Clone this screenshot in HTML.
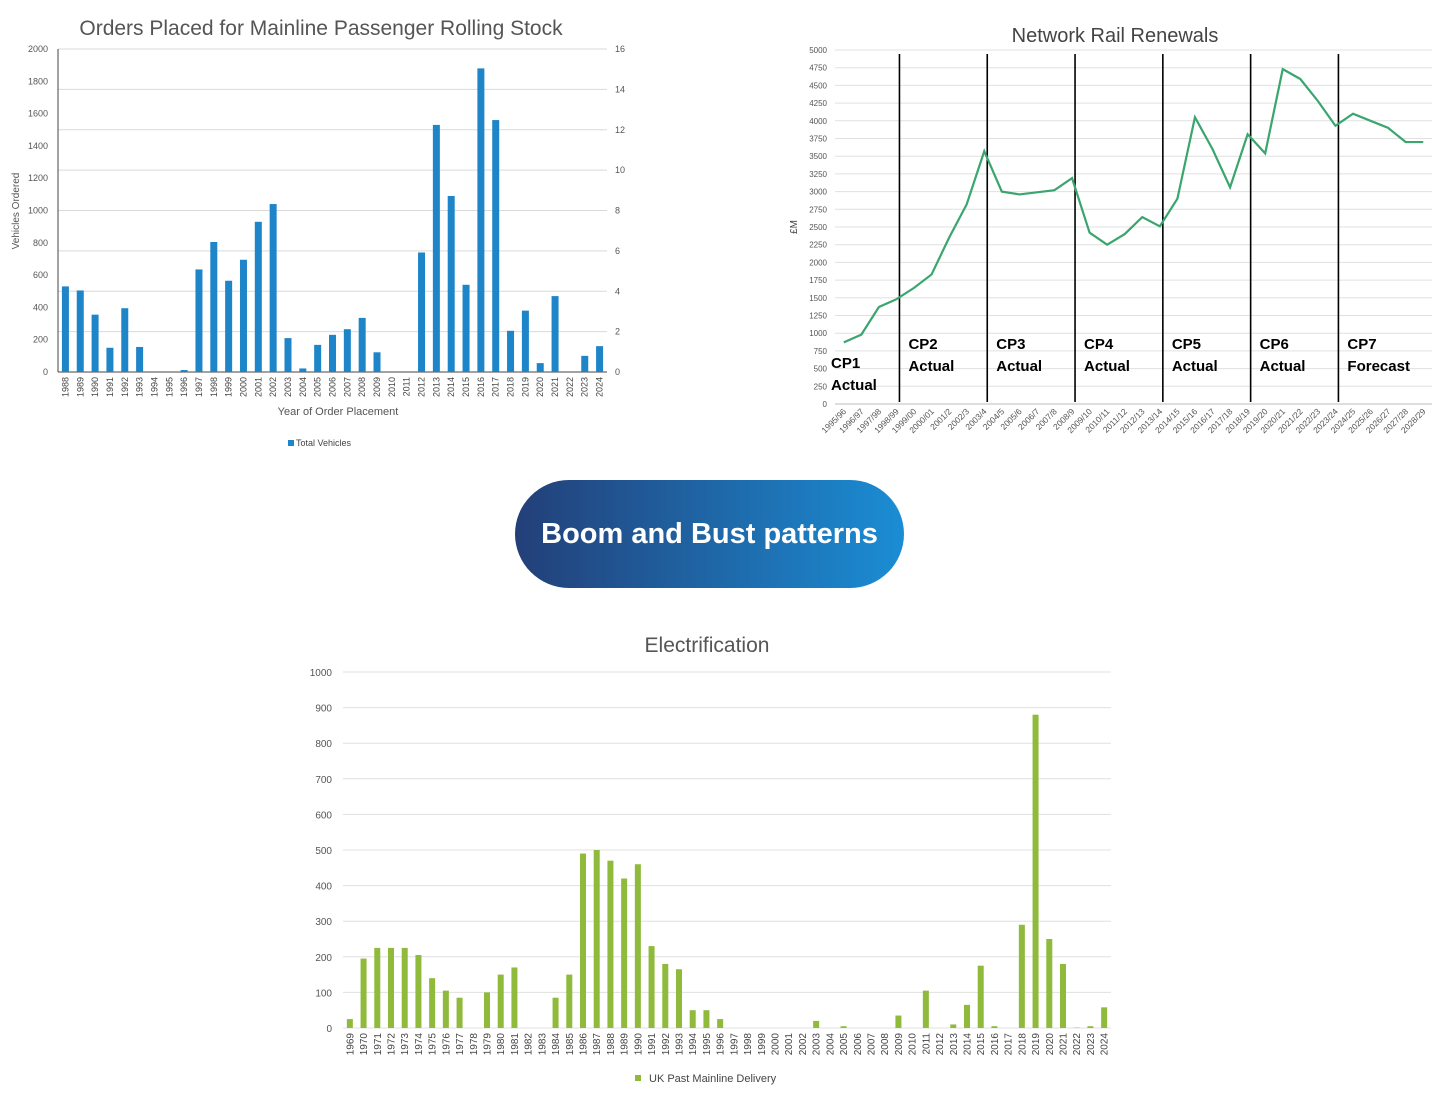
<!DOCTYPE html>
<html><head><meta charset="utf-8"><style>
body{margin:0;background:#fff;width:1439px;height:1093px;overflow:hidden;font-family:"Liberation Sans",sans-serif}
svg{position:absolute;left:0;top:0}
</style></head><body>
<svg id="s" width="1439" height="1093" xmlns="http://www.w3.org/2000/svg">
<defs><linearGradient id="g" x1="0" x2="1" y1="0" y2="0"><stop offset="0" stop-color="#233f78"/><stop offset="1" stop-color="#1b8dd4"/></linearGradient></defs>
<g>
<rect x="515" y="480" width="389" height="108" rx="54" fill="url(#g)"/>
<text x="709.5" y="543" text-anchor="middle" fill="#fff" font-size="29" font-weight="bold">Boom and Bust patterns</text>
</g>
</svg>
<script>
// Chart 1: Orders placed
const c1Years=["1988","1989","1990","1991","1992","1993","1994","1995","1996","1997","1998","1999","2000","2001","2002","2003","2004","2005","2006","2007","2008","2009","2010","2011","2012","2013","2014","2015","2016","2017","2018","2019","2020","2021","2022","2023","2024"];
const c1Values=[530,505,355,150,395,155,0,0,12,635,805,565,695,930,1040,210,22,168,230,265,335,122,0,0,740,1530,1090,540,1880,1560,255,380,55,470,0,100,160];
const c1LeftTicks=[0,200,400,600,800,1000,1200,1400,1600,1800,2000];
const c1RightTicks=[0,2,4,6,8,10,12,14,16];
// Chart 2: Network Rail renewals
const c2Cats=["1995/96","1996/97","1997/98","1998/99","1999/00","2000/01","2001/2","2002/3","2003/4","2004/5","2005/6","2006/7","2007/8","2008/9","2009/10","2010/11","2011/12","2012/13","2013/14","2014/15","2015/16","2016/17","2017/18","2018/19","2019/20","2020/21","2021/22","2022/23","2023/24","2024/25","2025/26","2026/27","2027/28","2028/29"];
const c2Values=[870,980,1370,1480,1640,1830,2350,2820,3570,3000,2960,2990,3020,3190,2420,2250,2400,2640,2510,2900,4050,3600,3060,3810,3540,4730,4590,4280,3930,4100,4000,3900,3700,3700];
const c2Ticks=[0,250,500,750,1000,1250,1500,1750,2000,2250,2500,2750,3000,3250,3500,3750,4000,4250,4500,4750,5000];
const c2Periods=["CP1","CP2","CP3","CP4","CP5","CP6","CP7"];
const c2PeriodSub=["Actual","Actual","Actual","Actual","Actual","Actual","Forecast"];
const c2Boundaries=[3,8,13,18,23,28];
// Chart 3: Electrification
const c3Years=[];for(let y=1969;y<=2024;y++)c3Years.push(String(y));
const c3Values=[25,195,225,225,225,205,140,105,85,0,100,150,170,0,0,85,150,490,500,470,420,460,230,180,165,50,50,25,0,0,0,0,0,0,20,0,5,0,0,0,35,0,105,0,10,65,175,5,0,290,880,250,180,1,5,58];
const c3Ticks=[0,100,200,300,400,500,600,700,800,900,1000];

const S=document.getElementById('s');const NS='http://www.w3.org/2000/svg';
function mk(t,a,txt,p){const e=document.createElementNS(NS,t);for(const k in a)e.setAttribute(k,a[k]);if(txt!=null)e.textContent=txt;(p||S).appendChild(e);return e;}
function grp(name){const g=mk('g',{});


return g;}

// ---- chart 1
(function(){
const G=grp('orders-chart');
const L=58,R=607,T=49,B=372;const y=v=>B-(v/2000)*(B-T);const bw=(R-L)/c1Years.length;const x=i=>L+(i+0.5)*bw;
mk('text',{x:321,y:35,'text-anchor':'middle','font-size':21,fill:'#555'},'Orders Placed for Mainline Passenger Rolling Stock',G);
c1RightTicks.forEach(t=>{const yy=B-(t/16)*(B-T);mk('line',{x1:L,x2:R,y1:yy,y2:yy,stroke:'#d9d9d9'},null,G);
const lb=mk('text',{x:615,y:yy+3,'font-size':9,fill:'#555'},t,G);

});
c1LeftTicks.forEach(t=>{const lb=mk('text',{x:48,y:y(t)+3,'text-anchor':'end','font-size':9,fill:'#555'},t,G);

});
mk('line',{x1:L,x2:L,y1:T,y2:B,stroke:'#444'},null,G);
mk('line',{x1:L,x2:R,y1:B,y2:B,stroke:'#444'},null,G);
c1Values.forEach((v,i)=>{const r=mk('rect',{x:x(i)-3.5,y:y(v),width:7,height:B-y(v),fill:'#1e85c8'},null,G);


const t=mk('text',{transform:`translate(${x(i)+3},${B+5}) rotate(-90)`,'text-anchor':'end','font-size':9,fill:'#444'},c1Years[i],G);

});
const yt=mk('text',{transform:'translate(19,211) rotate(-90)','text-anchor':'middle','font-size':10,fill:'#555'},'Vehicles Ordered',G);


const xt=mk('text',{x:338,y:415,'text-anchor':'middle','font-size':11,fill:'#555'},'Year of Order Placement',G);


const lg=mk('g',{},null,G);


mk('rect',{x:288,y:440,width:6,height:6,fill:'#1e85c8'},null,lg);
mk('text',{x:296,y:446,'font-size':9,fill:'#444'},'Total Vehicles',lg);
})();

// ---- chart 2
(function(){
const G=grp('renewals-chart');
const L=835,R=1432,T=50,B=404;const y=v=>B-(v/5000)*(B-T);const bw=(R-L)/c2Cats.length;const x=i=>L+(i+0.5)*bw;
mk('text',{x:1115,y:42,'text-anchor':'middle','font-size':20,fill:'#444'},'Network Rail Renewals',G);
c2Ticks.forEach(t=>{mk('line',{x1:L,x2:R,y1:y(t),y2:y(t),stroke:'#e0e0e0'},null,G);
const lb=mk('text',{x:827,y:y(t)+3,'text-anchor':'end','font-size':8,fill:'#555'},t,G);

});
mk('line',{x1:L,x2:R,y1:B,y2:B,stroke:'#bbb'},null,G);
c2Cats.forEach((c,i)=>{const t=mk('text',{transform:`translate(${x(i)+3},${B+8}) rotate(-45)`,'text-anchor':'end','font-size':8.5,fill:'#555'},c,G);

});
const yt=mk('text',{transform:'translate(797,227) rotate(-90)','text-anchor':'middle','font-size':10,fill:'#444'},'£M',G);


c2Boundaries.forEach(b=>{const ln=mk('line',{x1:x(b)+3,x2:x(b)+3,y1:54,y2:402,stroke:'#000','stroke-width':1.6},null,G);

});
const pd=mk('polyline',{points:c2Values.map((v,i)=>x(i)+','+y(v)).join(' '),fill:'none',stroke:'#3aa56e','stroke-width':2.2},null,G);


const starts=[-1].concat(c2Boundaries);
c2Periods.forEach((p,k)=>{const px=k==0?831:x(starts[k])+12;const py=k==0?368:349;
const lg=mk('g',{},null,G);


mk('text',{x:px,y:py,'font-size':15,'font-weight':'bold',fill:'#000'},p,lg);
mk('text',{x:px,y:py+22,'font-size':15,'font-weight':'bold',fill:'#000'},c2PeriodSub[k],lg);});
})();

// ---- chart 3
(function(){
const G=grp('electrification-chart');
const L=343,R=1111,T=672,B=1028;const y=v=>B-(v/1000)*(B-T);const bw=(R-L)/c3Years.length;const x=i=>L+(i+0.5)*bw;
mk('text',{x:707,y:652,'text-anchor':'middle','font-size':21,fill:'#555'},'Electrification',G);
c3Ticks.forEach(t=>{mk('line',{x1:L,x2:R,y1:y(t),y2:y(t),stroke:'#e0e0e0'},null,G);
const lb=mk('text',{x:332,y:y(t)+4,'text-anchor':'end','font-size':10,fill:'#555'},t,G);

});
c3Values.forEach((v,i)=>{const r=mk('rect',{x:x(i)-3,y:y(v),width:6,height:B-y(v),fill:'#8fba3c'},null,G);


const t=mk('text',{transform:`translate(${x(i)+3.5},${B+5}) rotate(-90)`,'text-anchor':'end','font-size':10,fill:'#444'},c3Years[i],G);

});
const lg=mk('g',{},null,G);


mk('rect',{x:635,y:1075,width:6,height:6,fill:'#8fba3c'},null,lg);
mk('text',{x:649,y:1082,'font-size':11,fill:'#444'},'UK Past Mainline Delivery',lg);
})();
</script>
</body></html>
